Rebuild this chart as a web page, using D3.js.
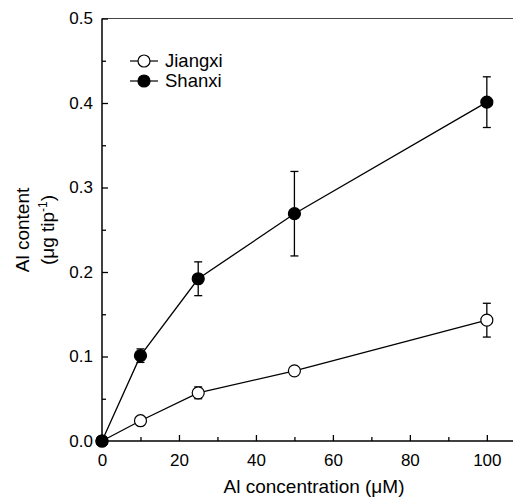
<!DOCTYPE html>
<html>
<head>
<meta charset="utf-8">
<script src="https://cdn.jsdelivr.net/npm/d3@7"></script>
<style>
  body { margin: 0; background: #fff; }
  text { font-family: "Liberation Sans", Arial, sans-serif; fill: #000; }
</style>
</head>
<body>
<div id="chart"></div>
<script>
(function() {

    var width = 514,
        height = 499;

    // data
    var concentrations = [0, 10, 25, 50, 100];
    var jiangxi = [0, 0.024, 0.057, 0.083, 0.143];
    var jiangxiErr = [0, 0.003, 0.007, 0.003, 0.020];
    var shanxi = [0, 0.101, 0.192, 0.269, 0.401];
    var shanxiErr = [0, 0.008, 0.020, 0.050, 0.030];
    var xTicks = [0, 20, 40, 60, 80, 100];
    var yTicks = [0, 0.1, 0.2, 0.3, 0.4, 0.5];

    var series = [
        { name: 'Jiangxi', fill: '#fff', values: jiangxi, err: jiangxiErr },
        { name: 'Shanxi', fill: '#000', values: shanxi, err: shanxiErr }
    ];

    var svg = d3.select("#chart")
        .append('svg')
        .attr('height', height)
        .attr('width', width);

    var x = d3.scaleLinear().domain([0, 106.8]).range([102, 513]);
    var y = d3.scaleLinear().domain([0, 0.5]).range([441, 18.5]);

    // top frame line
    svg.append('line')
        .attr('x1', x(0)).attr('x2', x(106.8))
        .attr('y1', y(0.5)).attr('y2', y(0.5))
        .attr('stroke', '#444').attr('stroke-width', 1.2);

    // x axis
    var xAxis = svg.append('g')
        .attr('transform', 'translate(0,' + y(0) + ')')
        .call(d3.axisBottom(x).tickValues(xTicks).tickSize(-6).tickPadding(13).tickFormat(d3.format('d')));
    xAxis.select('.domain').attr('stroke-width', 1.5).attr('d', 'M' + x(0) + ',0H' + x(106.8));
    svg.append('g')
        .attr('transform', 'translate(0,' + y(0) + ')')
        .call(d3.axisBottom(x).tickValues([10, 30, 50, 70, 90]).tickSize(-4).tickFormat(''))
        .select('.domain').remove();

    // y axis
    var yAxis = svg.append('g')
        .attr('transform', 'translate(' + x(0) + ',0)')
        .call(d3.axisLeft(y).tickValues(yTicks).tickSize(-6).tickPadding(9).tickFormat(d3.format('.1f')));
    yAxis.select('.domain').attr('stroke-width', 1.5).attr('d', 'M0,' + y(0) + 'V' + y(0.5));
    svg.append('g')
        .attr('transform', 'translate(' + x(0) + ',0)')
        .call(d3.axisLeft(y).tickValues([0.05, 0.15, 0.25, 0.35, 0.45]).tickSize(-4).tickFormat(''))
        .select('.domain').remove();

    svg.selectAll('.tick line').attr('stroke-width', 1.3);
    svg.selectAll('.tick text')
        .style('font-family', '"Liberation Sans", Arial, sans-serif')
        .style('font-size', '17px')
        .attr('fill', '#000');

    // axis titles
    svg.append('text')
        .attr('x', 314).attr('y', 493)
        .attr('text-anchor', 'middle')
        .style('font-size', '19px')
        .text('Al concentration (\u03bcM)');

    var yTitle = svg.append('text')
        .attr('transform', 'translate(29,230) rotate(-90)')
        .attr('text-anchor', 'middle')
        .style('font-size', '19px');
    yTitle.append('tspan').attr('x', 0).attr('y', 0).text('Al content');
    var t2 = yTitle.append('tspan').attr('x', 0).attr('y', 25).text('(\u03bcg tip');
    t2.append('tspan').attr('dy', -7).style('font-size', '12px').text('-1');
    t2.append('tspan').attr('dy', 7).text(')');

    var line = d3.line()
        .x(function(d, i) { return x(concentrations[i]); })
        .y(function(d) { return y(d); });

    series.forEach(function(s) {
        var g = svg.append('g');
        g.append('path')
            .attr('d', line(s.values))
            .attr('fill', 'none')
            .attr('stroke', '#000')
            .attr('stroke-width', 1.3);

        var eb = g.selectAll('.err')
            .data(s.values)
            .enter().append('g');
        eb.append('line')
            .attr('x1', function(d, i) { return x(concentrations[i]); })
            .attr('x2', function(d, i) { return x(concentrations[i]); })
            .attr('y1', function(d, i) { return y(d - s.err[i]); })
            .attr('y2', function(d, i) { return y(d + s.err[i]); })
            .attr('stroke', '#000').attr('stroke-width', 1.3);
        [-1, 1].forEach(function(sign) {
            eb.append('line')
                .attr('x1', function(d, i) { return x(concentrations[i]) - 4; })
                .attr('x2', function(d, i) { return x(concentrations[i]) + 4; })
                .attr('y1', function(d, i) { return y(d + sign * s.err[i]); })
                .attr('y2', function(d, i) { return y(d + sign * s.err[i]); })
                .attr('stroke', '#000').attr('stroke-width', 1.3);
        });

        g.selectAll('circle')
            .data(s.values)
            .enter().append('circle')
            .attr('cx', function(d, i) { return x(concentrations[i]); })
            .attr('cy', function(d) { return y(d); })
            .attr('r', 6)
            .attr('fill', s.fill)
            .attr('stroke', '#000')
            .attr('stroke-width', 1.2);
    });

    // legend
    var legend = svg.selectAll('.legend')
        .data(series)
        .enter().append('g')
        .attr('class', 'legend')
        .attr('transform', function(d, i) { return 'translate(130,' + (61 + i * 20) + ')'; });
    legend.append('line')
        .attr('x1', 0).attr('x2', 28)
        .attr('stroke', '#000').attr('stroke-width', 1.2);
    legend.append('circle')
        .attr('cx', 14).attr('r', 6)
        .attr('fill', function(d) { return d.fill; })
        .attr('stroke', '#000').attr('stroke-width', 1.2);
    legend.append('text')
        .attr('x', 35).attr('dy', '0.35em')
        .style('font-size', '18.5px')
        .text(function(d) { return d.name; });
})();
</script>
</body>
</html>
